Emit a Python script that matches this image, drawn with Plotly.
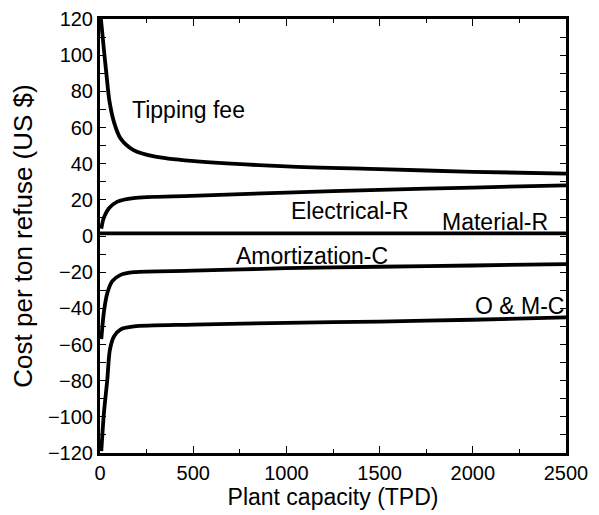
import plotly.graph_objects as go

# Data
tip_x = [5, 20, 35, 50, 75, 110, 180, 290, 490, 1000, 1500, 2000, 2500]
tip_y = [120, 104, 89, 75, 63, 54, 47.5, 44, 41.5, 38.5, 37, 35.5, 34.5]

elec_x = [7, 20, 48, 93, 180, 490, 1000, 1500, 2000, 2500]
elec_y = [4, 10, 15.3, 19, 21, 22.2, 24, 25.5, 26.8, 28]

mat_x = [0, 2500]
mat_y = [1.5, 1.5]

amort_x = [7, 21, 39, 66, 111, 182, 500, 1000, 1500, 2000, 2500]
amort_y = [-57, -42, -31.7, -25, -21.5, -20, -19.2, -17.8, -17, -16.3, -15.5]

om_x = [7, 21, 39, 53, 75, 111, 182, 500, 1000, 1500, 2000, 2500]
om_y = [-119, -98, -79.6, -63, -55.6, -51.6, -50, -49, -48, -47.3, -46.3, -45]

labels = ["Tipping fee", "Electrical-R", "Material-R", "Amortization-C", "O & M-C"]
label_x = [477, 1341, 2119, 1137, 2253]
label_y = [69.7, 13.8, 7.7, -11, -38.7]

FONT = "Liberation Sans, Arial, Helvetica, sans-serif"

fig = go.Figure()
for xs, ys in [(tip_x, tip_y), (elec_x, elec_y), (mat_x, mat_y), (amort_x, amort_y), (om_x, om_y)]:
    fig.add_trace(go.Scatter(x=xs, y=ys, mode="lines",
                             line=dict(color="black", width=3.8, shape="spline", smoothing=0.8),
                             showlegend=False, hoverinfo="skip"))

# invisible trace on the mirrored axes so they render
fig.add_trace(go.Scatter(x=[0], y=[0], xaxis="x2", yaxis="y2", mode="markers",
                         marker=dict(opacity=0), showlegend=False, hoverinfo="skip"))

for t, lx, ly in zip(labels, label_x, label_y):
    fig.add_annotation(x=lx, y=ly, text=t, showarrow=False,
                       font=dict(family=FONT, size=23, color="black"))

common_x = dict(range=[0, 2500], showgrid=False, zeroline=False, automargin=False,
                showline=True, linecolor="black", linewidth=3,
                ticks="inside", ticklen=7, tickwidth=1.2, tickcolor="black",
                dtick=500, tick0=0,
                minor=dict(dtick=250, ticks="inside", ticklen=4, tickwidth=1.2, tickcolor="black"))
common_y = dict(range=[-120, 120], showgrid=False, zeroline=False, automargin=False,
                showline=True, linecolor="black", linewidth=3,
                ticks="inside", ticklen=6, tickwidth=1.2, tickcolor="black",
                dtick=20, tick0=0,
                minor=dict(dtick=10, ticks="inside", ticklen=6, tickwidth=1.2, tickcolor="black"))

# the page body has an 8px default margin, so the figure is shifted to compensate
fig.update_layout(
    width=591, height=507,
    margin=dict(l=92, r=33, t=11, b=62),
    paper_bgcolor="white", plot_bgcolor="white",
    font=dict(family=FONT, size=20, color="black"),
    xaxis=dict(**common_x, title=dict(text="Plant capacity (TPD)", font=dict(size=23), standoff=4),
               tickfont=dict(size=20)),
    yaxis=dict(**common_y, title=dict(text="Cost per ton refuse (US $)", font=dict(size=26), standoff=10),
               tickfont=dict(size=20)),
    xaxis2=dict(**common_x, overlaying="x", side="top", showticklabels=False, anchor="y2"),
    yaxis2=dict(**common_y, overlaying="y", side="right", showticklabels=False, anchor="x2"),
)

fig.write_html("out.html")
